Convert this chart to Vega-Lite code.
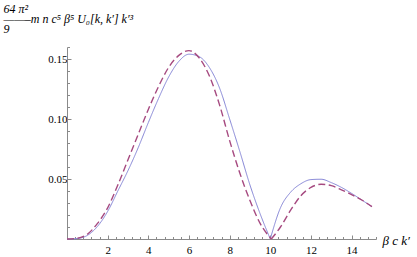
{
  "$schema": "https://vega.github.io/schema/vega-lite/v6.json",
  "width": 309,
  "height": 192,
  "autosize": "none",
  "padding": {"left": 67, "top": 47, "right": 41, "bottom": 18},
  "background": "white",
  "config": {"view": {"stroke": null}, "axis": {"grid": false}},
  "data": {"values": [
    {"x": 0, "y": 0, "series": "a", "seg": "a1"},
    {"x": 0.5, "y": 0.0004, "series": "a", "seg": "a1"},
    {"x": 1, "y": 0.003, "series": "a", "seg": "a1"},
    {"x": 1.5, "y": 0.0105, "series": "a", "seg": "a1"},
    {"x": 2, "y": 0.023, "series": "a", "seg": "a1"},
    {"x": 2.5, "y": 0.040, "series": "a", "seg": "a1"},
    {"x": 3, "y": 0.057, "series": "a", "seg": "a1"},
    {"x": 3.5, "y": 0.076, "series": "a", "seg": "a1"},
    {"x": 4, "y": 0.097, "series": "a", "seg": "a1"},
    {"x": 4.5, "y": 0.117, "series": "a", "seg": "a1"},
    {"x": 5, "y": 0.135, "series": "a", "seg": "a1"},
    {"x": 5.5, "y": 0.148, "series": "a", "seg": "a1"},
    {"x": 6, "y": 0.154, "series": "a", "seg": "a1"},
    {"x": 6.5, "y": 0.152, "series": "a", "seg": "a1"},
    {"x": 7, "y": 0.143, "series": "a", "seg": "a1"},
    {"x": 7.5, "y": 0.126, "series": "a", "seg": "a1"},
    {"x": 8, "y": 0.100, "series": "a", "seg": "a1"},
    {"x": 8.5, "y": 0.073, "series": "a", "seg": "a1"},
    {"x": 9, "y": 0.045, "series": "a", "seg": "a1"},
    {"x": 9.5, "y": 0.021, "series": "a", "seg": "a1"},
    {"x": 10, "y": 0, "series": "a", "seg": "a1"},
    {"x": 10, "y": 0, "series": "a", "seg": "a2"},
    {"x": 10.5, "y": 0.026, "series": "a", "seg": "a2"},
    {"x": 11, "y": 0.039, "series": "a", "seg": "a2"},
    {"x": 11.5, "y": 0.046, "series": "a", "seg": "a2"},
    {"x": 12, "y": 0.0495, "series": "a", "seg": "a2"},
    {"x": 12.5, "y": 0.0498, "series": "a", "seg": "a2"},
    {"x": 13, "y": 0.047, "series": "a", "seg": "a2"},
    {"x": 13.5, "y": 0.043, "series": "a", "seg": "a2"},
    {"x": 14, "y": 0.038, "series": "a", "seg": "a2"},
    {"x": 14.5, "y": 0.0325, "series": "a", "seg": "a2"},
    {"x": 15, "y": 0.027, "series": "a", "seg": "a2"},
    {"x": 0, "y": 0, "series": "b", "seg": "b1"},
    {"x": 0.5, "y": 0.0006, "series": "b", "seg": "b1"},
    {"x": 1, "y": 0.004, "series": "b", "seg": "b1"},
    {"x": 1.5, "y": 0.013, "series": "b", "seg": "b1"},
    {"x": 2, "y": 0.026, "series": "b", "seg": "b1"},
    {"x": 2.5, "y": 0.045, "series": "b", "seg": "b1"},
    {"x": 3, "y": 0.066, "series": "b", "seg": "b1"},
    {"x": 3.5, "y": 0.087, "series": "b", "seg": "b1"},
    {"x": 4, "y": 0.108, "series": "b", "seg": "b1"},
    {"x": 4.5, "y": 0.127, "series": "b", "seg": "b1"},
    {"x": 5, "y": 0.143, "series": "b", "seg": "b1"},
    {"x": 5.5, "y": 0.153, "series": "b", "seg": "b1"},
    {"x": 6, "y": 0.157, "series": "b", "seg": "b1"},
    {"x": 6.5, "y": 0.151, "series": "b", "seg": "b1"},
    {"x": 7, "y": 0.136, "series": "b", "seg": "b1"},
    {"x": 7.5, "y": 0.112, "series": "b", "seg": "b1"},
    {"x": 8, "y": 0.082, "series": "b", "seg": "b1"},
    {"x": 8.5, "y": 0.055, "series": "b", "seg": "b1"},
    {"x": 9, "y": 0.032, "series": "b", "seg": "b1"},
    {"x": 9.5, "y": 0.013, "series": "b", "seg": "b1"},
    {"x": 10.05, "y": 0, "series": "b", "seg": "b1"},
    {"x": 10.05, "y": 0, "series": "b", "seg": "b2"},
    {"x": 10.5, "y": 0.010, "series": "b", "seg": "b2"},
    {"x": 11, "y": 0.024, "series": "b", "seg": "b2"},
    {"x": 11.5, "y": 0.036, "series": "b", "seg": "b2"},
    {"x": 12, "y": 0.043, "series": "b", "seg": "b2"},
    {"x": 12.5, "y": 0.0456, "series": "b", "seg": "b2"},
    {"x": 13, "y": 0.0445, "series": "b", "seg": "b2"},
    {"x": 13.5, "y": 0.041, "series": "b", "seg": "b2"},
    {"x": 14, "y": 0.037, "series": "b", "seg": "b2"},
    {"x": 14.5, "y": 0.0325, "series": "b", "seg": "b2"},
    {"x": 15, "y": 0.027, "series": "b", "seg": "b2"}
  ]},
  "mark": {"type": "line", "interpolate": "monotone", "clip": false},
  "encoding": {
    "x": {
      "field": "x", "type": "quantitative",
      "scale": {"domain": [0, 15.2], "nice": false, "zero": false},
      "axis": {
        "values": [0.4, 0.8, 1.2, 1.6, 2, 2.4, 2.8, 3.2, 3.6, 4, 4.4, 4.8, 5.2, 5.6, 6, 6.4, 6.8, 7.2, 7.6, 8, 8.4, 8.8, 9.2, 9.6, 10, 10.4, 10.8, 11.2, 11.6, 12, 12.4, 12.8, 13.2, 13.6, 14, 14.4, 14.8, 15.2],
        "labelExpr": "abs(datum.value/2 - round(datum.value/2)) < 0.01 ? format(datum.value, 'd') : ''",
        "labelOverlap": false,
        "labelFlush": false,
        "labelFont": "Liberation Serif",
        "labelFontSize": 11,
        "labelColor": "black",
        "labelBaseline": "alphabetic",
        "labelPadding": 18,
        "domainColor": "#8a8a8a",
        "tickColor": "#8a8a8a",
        "tickSize": {"condition": {"test": "abs(datum.value/2 - round(datum.value/2)) < 0.01", "value": -4}, "value": -2.5},
        "title": "β c k′",
        "titleFont": "Liberation Serif",
        "titleFontSize": 13,
        "titleFontStyle": "italic",
        "titleFontWeight": "normal",
        "titleColor": "black",
        "titleAngle": 0,
        "titleAlign": "left",
        "titleBaseline": "alphabetic",
        "titleX": 315,
        "titleY": 5
      }
    },
    "y": {
      "field": "y", "type": "quantitative",
      "scale": {"domain": [0, 0.16], "nice": false},
      "axis": {
        "values": [0.01, 0.02, 0.03, 0.04, 0.05, 0.06, 0.07, 0.08, 0.09, 0.10, 0.11, 0.12, 0.13, 0.14, 0.15, 0.16],
        "labelExpr": "abs(datum.value*20 - round(datum.value*20)) < 0.001 ? format(datum.value, '.2f') : ''",
        "labelOverlap": false,
        "labelFlush": false,
        "labelFont": "Liberation Serif",
        "labelFontSize": 11,
        "labelColor": "black",
        "labelPadding": 4,
        "domainColor": "#8a8a8a",
        "tickColor": "#8a8a8a",
        "tickSize": {"condition": {"test": "abs(datum.value*20 - round(datum.value*20)) < 0.001", "value": -4}, "value": -2.5},
        "title": ["64 π²", "——–m n c⁵ β⁵ U₀[k, k′] k′³", "  9"],
        "titleFont": "Liberation Serif",
        "titleFontSize": 12,
        "titleFontStyle": "italic",
        "titleFontWeight": "normal",
        "titleColor": "black",
        "titleAngle": 0,
        "titleAlign": "left",
        "titleBaseline": "alphabetic",
        "titleLineHeight": 10,
        "titleX": -64,
        "titleY": -35
      }
    },
    "color": {"field": "series", "type": "nominal", "scale": {"domain": ["a", "b"], "range": ["#8585d6", "#a64a80"]}, "legend": null},
    "strokeDash": {"field": "series", "type": "nominal", "scale": {"domain": ["a", "b"], "range": [[1, 0], [7, 3.5]]}, "legend": null},
    "strokeWidth": {"field": "series", "type": "nominal", "scale": {"domain": ["a", "b"], "range": [1, 1.4]}, "legend": null},
    "detail": {"field": "seg", "type": "nominal"}
  }
}
